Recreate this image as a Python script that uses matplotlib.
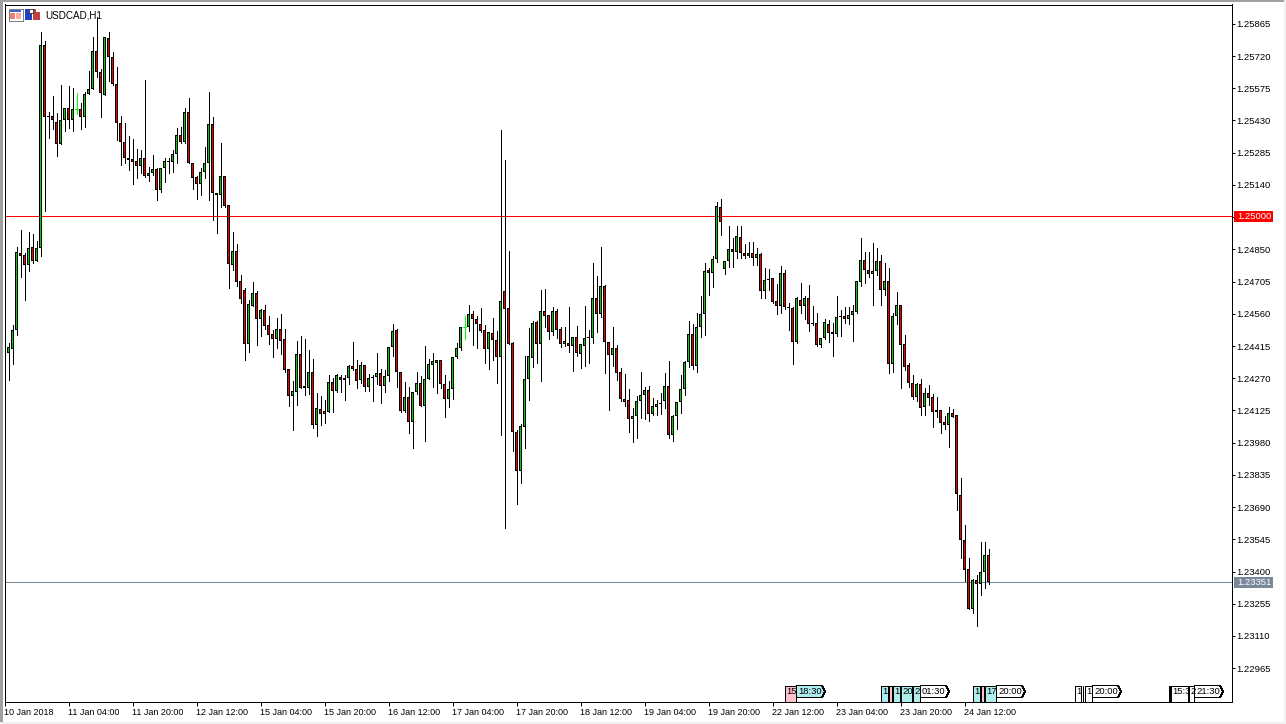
#!/usr/bin/env python3

import numpy as np
import matplotlib
matplotlib.use('Agg')
import matplotlib.pyplot as plt

from matplotlib.patches import Polygon, Rectangle
from matplotlib.lines import Line2D
from matplotlib.transforms import Affine2D

W, H = 1286, 724

# USDCAD H1 prices, in points (1e-5)
opens = [
	124384,124384,124402,124487,124834,124824,124780,124860,124798,124856,
	125770,125450,125450,125423,125324,125432,125486,125432,125480,125482,
	125446,125549,125572,125742,125648,125544,125801,125716,125594,125418,
	125333,125261,125256,125248,125225,125261,125180,125194,125212,125117,
	125216,125248,125243,125279,125364,125333,125468,125238,125176,125144,
	125198,125238,125414,125104,125094,125180,125050,124780,124842,124708,
	124667,124424,124595,124654,124536,124577,124510,124469,124446,124492,
	124446,124312,124190,124208,124379,124235,124226,124298,124060,124132,
	124109,124118,124253,124212,124276,124262,124271,124325,124312,124262,
	124330,124230,124271,124276,124294,124235,124280,124410,124487,124298,
	124122,124186,124073,124208,124248,124145,124266,124330,124338,124352,
	124244,124176,124222,124366,124406,124500,124500,124559,124536,124514,
	124487,124402,124474,124442,124366,124662,124586,124428,124028,123852,
	124050,124266,124361,124523,124424,124572,124554,124478,124572,124492,
	124424,124428,124415,124456,124379,124415,124451,124451,124631,124559,
	124685,124433,124374,124406,124298,124176,124172,124086,124100,124168,
	124194,124217,124109,124140,124154,124168,124235,124014,124100,124163,
	124222,124343,124469,124325,124500,124559,124757,124744,124806,125040,
	124762,124798,124852,124838,124906,124834,124820,124834,124811,124829,
	124662,124712,124721,124618,124595,124744,124590,124586,124433,124622,
	124595,124631,124518,124518,124420,124451,124514,124478,124469,124546,
	124550,124536,124554,124568,124703,124802,124757,124739,124752,124798,
	124667,124708,124334,124550,124600,124424,124330,124248,124186,124244,
	124140,124204,124186,124127,124127,124073,124060,124114,124104,123744,
	123542,123412,123232,123362,123344,123398,123474,
]
highs = [
	124532,124428,124510,124860,124937,124834,124928,124919,124888,125828,
	125788,125468,125540,125463,125590,125486,125585,125576,125554,125508,
	125558,125652,125806,125896,125662,125806,125828,125738,125670,125450,
	125418,125360,125346,125302,125297,125612,125220,125274,125216,125216,
	125261,125261,125297,125396,125400,125486,125531,125238,125180,125216,
	125310,125558,125446,125104,125328,125180,125050,124928,124874,124734,
	124676,124622,124703,124662,124582,124600,124550,124487,124541,124559,
	124492,124312,124258,124438,124460,124446,124397,124356,124204,124190,
	124172,124284,124271,124289,124284,124284,124330,124433,124352,124343,
	124330,124289,124284,124384,124312,124307,124410,124514,124492,124298,
	124253,124230,124208,124298,124280,124415,124356,124384,124352,124352,
	124284,124258,124366,124428,124500,124550,124600,124572,124550,124586,
	124510,124478,124541,124482,125387,125252,124842,124433,124037,124064,
	124370,124496,124528,124528,124667,124672,124554,124590,124582,124500,
	124500,124590,124456,124505,124424,124595,124487,124788,124730,124860,
	124690,124433,124500,124420,124316,124289,124222,124136,124190,124298,
	124230,124235,124181,124172,124204,124294,124348,124104,124163,124284,
	124348,124528,124514,124564,124640,124788,124766,124820,125063,125076,
	124798,124955,124901,124955,124955,124874,124883,124883,124856,124834,
	124766,124762,124721,124694,124775,124757,124608,124590,124636,124698,
	124640,124690,124595,124564,124451,124536,124532,124518,124640,124577,
	124590,124590,124600,124708,124901,124838,124838,124878,124856,124824,
	124788,124766,124564,124658,124600,124464,124338,124284,124248,124266,
	124226,124240,124199,124186,124127,124100,124140,124132,124104,123821,
	123610,123461,123366,123384,123533,123533,123502,
]
lows = [
	124384,124262,124334,124464,124726,124622,124752,124788,124798,124820,
	125022,125351,125392,125270,125324,125382,125396,125382,125459,125392,
	125400,125549,125572,125626,125446,125544,125608,125590,125342,125230,
	125238,125207,125144,125171,125194,125176,125158,125184,125072,125108,
	125153,125194,125198,125238,125328,125328,125238,125122,125076,125094,
	125171,125072,124982,124924,125040,125040,124676,124757,124685,124608,
	124352,124388,124595,124420,124460,124492,124424,124366,124406,124379,
	124298,124145,124037,124150,124226,124194,124199,124046,124010,124060,
	124068,124118,124118,124208,124208,124172,124244,124307,124226,124248,
	124212,124212,124168,124244,124158,124208,124258,124370,124230,124118,
	124118,124024,123956,124199,124145,123988,124266,124230,124204,124226,
	124096,124140,124176,124361,124397,124446,124482,124420,124406,124478,
	124338,124312,124352,124248,124014,123596,124424,123942,123704,123798,
	123956,124172,124320,124338,124258,124500,124446,124464,124451,124410,
	124415,124388,124302,124370,124316,124325,124338,124428,124478,124546,
	124294,124127,124325,124262,124168,124145,124028,123983,124001,124091,
	124086,124078,124104,124104,124109,124136,124001,123988,124042,124114,
	124194,124320,124312,124298,124456,124464,124644,124680,124793,124914,
	124739,124770,124770,124811,124811,124811,124816,124780,124780,124631,
	124631,124667,124608,124559,124564,124582,124487,124334,124428,124564,
	124536,124482,124510,124415,124410,124446,124433,124370,124460,124460,
	124518,124514,124438,124564,124685,124698,124726,124600,124734,124600,
	124644,124294,124298,124514,124226,124307,124230,124176,124168,124104,
	124104,124150,124050,124096,124024,124042,123960,124096,123677,123461,
	123358,123232,123214,123155,123294,123326,123344,
]
closes = [
	124410,124410,124487,124838,124820,124780,124856,124798,124856,125770,
	125446,125446,125432,125324,125432,125486,125432,125482,125480,125446,
	125549,125572,125742,125648,125554,125806,125716,125594,125418,125333,
	125261,125252,125243,125225,125261,125180,125194,125212,125117,125216,
	125248,125243,125279,125364,125333,125468,125238,125171,125144,125198,
	125238,125414,125104,125094,125180,125045,124784,124842,124703,124626,
	124424,124604,124654,124536,124577,124505,124464,124446,124492,124438,
	124307,124190,124212,124379,124226,124226,124298,124060,124136,124109,
	124122,124253,124212,124284,124262,124271,124325,124312,124258,124330,
	124230,124271,124276,124294,124235,124280,124410,124482,124298,124122,
	124186,124073,124208,124248,124145,124266,124334,124348,124352,124244,
	124176,124222,124366,124406,124500,124500,124559,124536,124514,124482,
	124402,124478,124442,124366,124618,124582,124424,124028,123852,124055,
	124266,124370,124518,124424,124572,124550,124478,124572,124487,124424,
	124438,124415,124456,124384,124424,124451,124456,124631,124559,124685,
	124433,124374,124406,124294,124176,124163,124086,124100,124168,124194,
	124217,124109,124145,124154,124158,124235,124014,124100,124163,124222,
	124343,124469,124325,124500,124559,124752,124744,124806,125045,124973,
	124798,124852,124838,124910,124834,124820,124834,124811,124829,124662,
	124712,124716,124613,124595,124744,124590,124586,124433,124631,124595,
	124631,124514,124514,124420,124451,124523,124474,124469,124546,124550,
	124536,124554,124572,124708,124802,124757,124739,124752,124798,124667,
	124708,124334,124550,124600,124420,124320,124248,124186,124244,124136,
	124204,124181,124118,124118,124068,124060,124114,124096,123749,123542,
	123407,123232,123362,123344,123398,123474,123351,
]

price_ticks = [
	125865,125720,125575,125430,125285,125140,124995,124850,124705,124560,124415,
	124270,124125,123980,123835,123690,123545,123400,123255,123110,122965,
]
price_labels = [
	'1.25865','1.25720','1.25575','1.25430','1.25285','1.25140','','1.24850','1.24705','1.24560','1.24415',
	'1.24270','1.24125','1.23980','1.23835','1.23690','1.23545','1.23400','1.23255','1.23110','1.22965',
]
time_labels = [
	'10 Jan 2018','11 Jan 04:00','11 Jan 20:00','12 Jan 12:00','15 Jan 04:00','15 Jan 20:00',
	'16 Jan 12:00','17 Jan 04:00','17 Jan 20:00','18 Jan 12:00','19 Jan 04:00','19 Jan 20:00',
	'22 Jan 12:00','23 Jan 04:00','23 Jan 20:00','24 Jan 12:00',
]
level_price = 125000
last_price = 123351

# calendar event tags along the bottom: start bar, width in px, text, colour (width 0 is a bare line)
event_bars = [195, 198, 219, 221, 222, 224, 227, 229, 242, 244, 245, 248, 267.5, 269.1, 269.5, 270, 272, 291, 291.4, 291.6, 296, 297.5]
event_widths = [11.5, 28.5, 7, 3, 7, 11.5, 7, 28.5, 7, 3, 11.5, 28.5, 6, 0, 0, 7, 28.5, 0, 0, 17.5, 5, 28.5]
event_texts = ['15', '18:30', '1', '', '1', '20', '2', '01:30', '1', '', '17', '20:00', '1', '', '', '1', '20:00', '', '', '15:3', '2', '21:30']
event_colors = ['#ffc0cb', '#afeeee', '#afeeee', '#ffc0cb', '#afeeee', '#afeeee', '#afeeee', 'white', '#afeeee', '#ffc0cb', '#afeeee', 'white', 'white', 'k', 'k', 'white', 'white', 'k', 'k', 'white', 'white', 'white']

BULL = '#00d000'
BEAR = '#f00000'
DOJI = '#00ff00'
LINE_W = 0.72
PX = 4.5  # one screen pixel in price points

plt.rcParams['font.family'] = ['Liberation Sans', 'DejaVu Sans']
plt.rcParams['font.size'] = 6.8

fig = plt.figure(figsize=(W / 100, H / 100), dpi=100, facecolor='white')
pix = Affine2D().scale(1, -1).translate(0, H)

ax = fig.add_axes([4.5 / W, 1 - 701.5 / H, (1231.5 - 4.5) / W, (701.5 - 4.5) / H])
ax.set_xlim(0, 306.75)
ax.set_ylim(122815, 125952)

o = np.array(opens)
h = np.array(highs)
l = np.array(lows)
c = np.array(closes)
idx = np.arange(len(o))

ax.axhline(level_price, color='#ff0000', lw=LINE_W, zorder=1, antialiased=False)
ax.axhline(last_price, color='#778899', lw=LINE_W, zorder=1, antialiased=False)

flat = o == c
wick_colors = ['k' if not f else DOJI for f in flat]
ax.vlines(idx, l, h, colors=wick_colors, lw=LINE_W, zorder=2, antialiased=False)
ax.hlines(o[flat], idx[flat] - 0.3, idx[flat] + 0.3, colors=DOJI, lw=LINE_W, zorder=3, antialiased=False)

# black outer block, coloured core one pixel inside it
solid = ~flat
top = np.maximum(o, c)
bottom = np.minimum(o, c)
ax.bar(idx[solid], (top - bottom)[solid], bottom=bottom[solid], width=0.75, color='k',
	linewidth=0, zorder=3, antialiased=False)
core = (top - bottom) > 2 * PX
up = core & (c > o)
down = core & (c < o)
ax.bar(idx[up], (top - bottom - 2 * PX)[up], bottom=(bottom + PX)[up], width=0.25, color=BULL,
	linewidth=0, zorder=4, antialiased=False)
ax.bar(idx[down], (top - bottom - 2 * PX)[down], bottom=(bottom + PX)[down], width=0.25, color=BEAR,
	linewidth=0, zorder=4, antialiased=False)

ax.yaxis.tick_right()
ax.set_yticks(price_ticks)
ax.set_yticklabels(price_labels)
ax.set_xticks(idx[::16][:len(time_labels)])
ax.set_xticklabels(time_labels, ha='left')
ax.tick_params(axis='y', length=2.2, width=LINE_W, pad=1.6, labelsize=6.8)
ax.tick_params(axis='x', length=2.9, width=LINE_W, pad=1.6, labelsize=6.5)
for s in ax.spines.values() :
	s.set_linewidth(LINE_W)
	s.set_antialiased(False)


def y_of(price) :
	return H - ax.transData.transform((0, price))[1]


def x_of(bar) :
	return ax.transData.transform((bar, 0))[0]


def box(x0, y0, x1, y1, color, edge='none', z=5) :
	fig.add_artist(Rectangle((x0, y0), x1 - x0, y1 - y0, transform=pix, facecolor=color,
		edgecolor=edge, linewidth=LINE_W if edge != 'none' else 0, antialiased=False, zorder=z))


def price_tag(price, text, color) :
	y = y_of(price)
	box(1234, y - 5.5, 1273, y + 5.5, color)
	fig.text(1237.3, y, text, transform=pix, color='white', fontsize=6.8, ha='left', va='center', zorder=6)


price_tag(level_price, '1.25000', '#ff0000')
price_tag(last_price, '1.23351', '#778899')

# event tags
for bar, width, text, color in zip(event_bars, event_widths, event_texts, event_colors) :
	x0 = x_of(bar)
	x1 = x0 + width
	if width == 0 :
		fig.add_artist(Line2D([x0, x0], [685.5, 701.5], transform=pix, color=color,
			linewidth=LINE_W, antialiased=False, zorder=5))
		continue
	if width > 20 :
		pts = [(x0, 685.5), (x1 - 3, 685.5), (x1, 691.5), (x1 - 3, 697.5), (x0, 697.5), (x0, 701.5)]
	else :
		pts = [(x0, 685.5), (x1, 685.5), (x1, 701.5), (x0, 701.5)]
	fig.add_artist(Polygon(pts, closed=True, transform=pix, facecolor=color, edgecolor='k',
		linewidth=LINE_W, antialiased=False, zorder=5))
	if text :
		fig.text(x0 + 1.5, 691.5, text, transform=pix, color='k', fontsize=6.8, ha='left', va='center', zorder=6)

# window border
box(0, 0, 3, H, '#a0a0a0')
box(0, 0, W, 2, '#a0a0a0')
box(W - 2, 0, W, H, '#f0f0f0')
box(0, H - 2, W, H, '#f0f0f0')

# chart title and its little icons
box(8.5, 8.5, 22.5, 20.5, '#ffffff', edge='#808080')
box(10, 10, 21, 12, '#4060d0', z=6)
box(10, 13, 15, 19, '#f08070', z=6)
box(16, 13, 21, 19, '#f4b0a0', z=6)
box(25, 9, 32, 20, '#2040c0', z=5)
box(29, 9, 33, 13, 'white', edge='#404040', z=6)
box(33, 9, 40, 20, '#c04040', z=5)
box(36, 9, 40, 12, 'white', z=6)
fig.text(45, 15, 'USDCAD,H1', transform=pix, color='k', fontsize=7.1, ha='left', va='center', zorder=6)

fig.savefig('out.png', dpi=100, facecolor='white')
